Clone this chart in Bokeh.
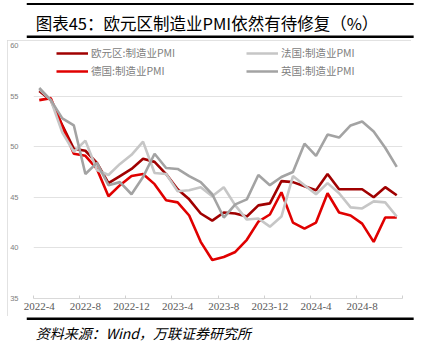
from bokeh.plotting import figure
from bokeh.models import FixedTicker, Legend, LegendItem, Range1d
from bokeh.layouts import column
from bokeh.core.properties import value
from bokeh.embed import file_html
from bokeh.resources import INLINE

# ---- data ----
months = ["2022-4", "2022-5", "2022-6", "2022-7", "2022-8", "2022-9", "2022-10", "2022-11", "2022-12",
          "2023-1", "2023-2", "2023-3", "2023-4", "2023-5", "2023-6", "2023-7", "2023-8", "2023-9",
          "2023-10", "2023-11", "2023-12",
          "2024-1", "2024-2", "2024-3", "2024-4", "2024-5", "2024-6", "2024-7", "2024-8", "2024-9",
          "2024-10", "2024-11"]
eurozone = [55.5, 54.6, 52.1, 49.8, 49.6, 48.4, 46.4, 47.1, 47.8,
            48.8, 48.5, 47.3, 45.8, 44.8, 43.4, 42.7, 43.5, 43.4, 43.1, 44.2, 44.4,
            46.6, 46.5, 46.1, 45.7, 47.3, 45.8, 45.8, 45.8, 45.0, 46.0, 45.2]
germany = [54.6, 54.8, 52.0, 49.3, 49.1, 47.8, 45.1, 46.2, 47.1,
           47.3, 46.3, 44.7, 44.5, 43.2, 40.6, 38.8, 39.1, 39.6, 40.8, 42.6, 43.3,
           45.5, 42.5, 41.9, 42.5, 45.4, 43.5, 43.2, 42.4, 40.6, 43.0, 43.0]
france = [55.7, 54.6, 51.4, 49.5, 50.6, 47.7, 47.2, 48.3, 49.2,
          50.5, 47.4, 47.3, 45.6, 45.7, 46.0, 45.1, 46.0, 44.2, 42.8, 42.9, 42.1,
          43.1, 47.1, 46.2, 45.3, 46.4, 45.4, 44.0, 43.9, 44.6, 44.5, 43.1]
uk = [55.8, 54.6, 52.8, 52.1, 47.3, 48.4, 46.2, 46.5, 45.3,
      47.0, 49.3, 47.9, 47.8, 47.1, 46.5, 45.3, 43.0, 44.3, 44.8, 47.2, 46.2,
      47.0, 47.5, 50.3, 49.1, 51.2, 50.9, 52.1, 52.5, 51.5, 49.9, 48.0]
series_names = ["欧元区:制造业PMI", "德国:制造业PMI", "法国:制造业PMI", "英国:制造业PMI"]
y_ticks = [35, 40, 45, 50, 55, 60]
title_text = "图表45：欧元区制造业PMI依然有待修复（%）"
source_text = "资料来源：Wind，万联证券研究所"

x = list(range(len(months)))
label_idx = list(range(0, len(months), 4))
boundaries = [i - 0.5 for i in range(0, len(months) + 1, 4)]

CJK = "Noto Sans CJK SC"


def banner(height):
    """A strip in pixel units (y downward) for the report header / footer."""
    f = figure(width=424, height=height, output_backend="svg", toolbar_location=None,
               x_range=Range1d(0, 424), y_range=Range1d(height, 0),
               x_axis_type=None, y_axis_type=None, min_border=0, margin=(0, 0, 0, 0))
    f.outline_line_color = None
    f.background_fill_color = "white"
    f.border_fill_color = "white"
    f.xgrid.visible = False
    f.ygrid.visible = False
    return f


# ---- header: rules + title ----
head = banner(38)
head.segment(x0=[0], y0=[3.5], x1=[422], y1=[3.5], line_color="#000000", line_width=2)
head.segment(x0=[0], y0=[36.5], x1=[422], y1=[36.5], line_color="#000000", line_width=3)
head.text(x=[10], y=[22], text=[title_text], text_font=value(CJK), text_font_size="16.5px",
          text_color="black", text_baseline="middle", text_align="left")

# ---- chart ----
p = figure(width=404, height=276, output_backend="svg", toolbar_location=None,
           x_range=Range1d(-0.5, len(months) - 0.5), y_range=Range1d(y_ticks[0], y_ticks[-1]),
           min_border_left=20, min_border_right=9, min_border_top=5, min_border_bottom=18,
           margin=(2, 13, 0, 7),
           styles={"outline": "1px solid #d9d9d9", "outline-offset": "-1px"})
p.background_fill_color = "white"
p.border_fill_color = "white"
p.outline_line_color = None

xa = p.xaxis[0]
xa.ticker = FixedTicker(ticks=label_idx, minor_ticks=boundaries)
xa.major_label_overrides = {i: months[i] for i in label_idx}
xa.major_tick_in = 0
xa.major_tick_out = 0
xa.minor_tick_in = 3
xa.minor_tick_out = 0
xa.minor_tick_line_color = "#d0d0d0"
xa.axis_line_color = "#d9d9d9"
xa.major_label_standoff = 4
xa.major_label_text_font = "Liberation Sans Narrow"
xa.major_label_text_font_size = "11px"
xa.major_label_text_color = "#595959"

ya = p.yaxis[0]
ya.ticker = FixedTicker(ticks=y_ticks)
ya.axis_line_color = None
ya.major_tick_line_color = None
ya.minor_tick_line_color = None
ya.major_label_standoff = 9
ya.major_label_text_font = "Liberation Sans"
ya.major_label_text_font_size = "7.5px"
ya.major_label_text_color = "#808080"

p.xgrid.grid_line_color = None
p.ygrid.ticker = FixedTicker(ticks=y_ticks)
p.ygrid.grid_line_color = "#e2e2e2"
p.ygrid.grid_line_width = 1

colors = ["#A00000", "#E00000", "#C6C6C6", "#A3A3A3"]
r_ez = p.line(x, eurozone, line_color=colors[0], line_width=2.6)
r_de = p.line(x, germany, line_color=colors[1], line_width=2.6)
r_fr = p.line(x, france, line_color=colors[2], line_width=2.6)
r_uk = p.line(x, uk, line_color=colors[3], line_width=2.6)


def make_legend(items, loc):
    return Legend(items=items, location=loc, orientation="vertical",
                  glyph_width=32, glyph_height=18, label_height=18, label_width=110,
                  label_standoff=3, spacing=0, padding=0, margin=0, border_line_color=None,
                  background_fill_alpha=0, label_text_font=CJK,
                  label_text_font_size="10.5px", label_text_color="#808080")


p.add_layout(make_legend([LegendItem(label=series_names[0], renderers=[r_ez]),
                          LegendItem(label=series_names[1], renderers=[r_de])], (23, 218.5)))
p.add_layout(make_legend([LegendItem(label=series_names[2], renderers=[r_fr]),
                          LegendItem(label=series_names[3], renderers=[r_uk])], (213, 218.5)))

# ---- footer: rule + source ----
foot = banner(36)
foot.segment(x0=[0], y0=[2.2], x1=[422], y1=[2.2], line_color="#000000", line_width=2.5)
foot.text(x=[10], y=[16.5], text=[source_text], text_font=value(CJK), text_font_size="14px",
          text_font_style="italic", text_color="black", text_baseline="middle", text_align="left")

layout = column(head, p, foot, spacing=0, width=424, height=352)

open("out.html", "w").write(file_html(layout, INLINE))
